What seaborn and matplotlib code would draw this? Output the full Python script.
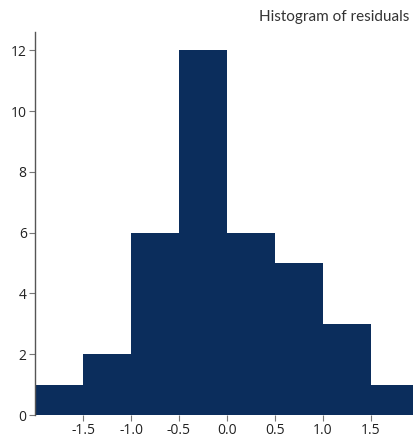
import matplotlib
matplotlib.use("Agg")
import matplotlib.pyplot as plt
import seaborn as sns
import numpy as np

# Residual histogram: bin edges and counts per bin
bin_edges = [-2.0, -1.5, -1.0, -0.5, 0.0, 0.5, 1.0, 1.5, 2.0]
bin_counts = [1, 2, 6, 12, 6, 5, 3, 1]
x_ticks = [-1.5, -1.0, -0.5, 0.0, 0.5, 1.0, 1.5]
y_ticks = [0, 2, 4, 6, 8, 10, 12]
title = "Histogram of residuals"

bin_centers = [(a + b) / 2 for a, b in zip(bin_edges[:-1], bin_edges[1:])]

sns.set_style("white")
plt.rcParams["font.family"] = ["Open Sans", "DejaVu Sans"]

fig = plt.figure(figsize=(4.14, 4.44), dpi=100)
ax = fig.add_axes([35 / 414, 29 / 444, 384 / 414, 383 / 444])

sns.histplot(x=bin_centers, weights=bin_counts, bins=bin_edges,
             color="#0b2d5c", alpha=1.0, edgecolor="none", linewidth=0, ax=ax)

ax.set_xlim(-2.0, 2.0)
ax.set_ylim(0, 12.6)
ax.set_xticks(x_ticks)
ax.set_xticklabels([f"{t:.1f}" for t in x_ticks])
ax.set_yticks(y_ticks)
ax.set_xlabel("")
ax.set_ylabel("")

for s in ["top", "right", "bottom"]:
    ax.spines[s].set_visible(False)
ax.spines["left"].set_color("#555555")
ax.spines["left"].set_linewidth(1.0)

ax.tick_params(axis="both", which="both", direction="out", length=4,
               width=0.8, color="#777777", labelsize=10, labelcolor="#222222",
               pad=2, bottom=True, left=True)

fig.text(0.99, 0.978, title, ha="right", va="top", fontsize=11,
         color="#333333", family=["Lato", "DejaVu Sans"])

fig.savefig("out.png", dpi=100)
